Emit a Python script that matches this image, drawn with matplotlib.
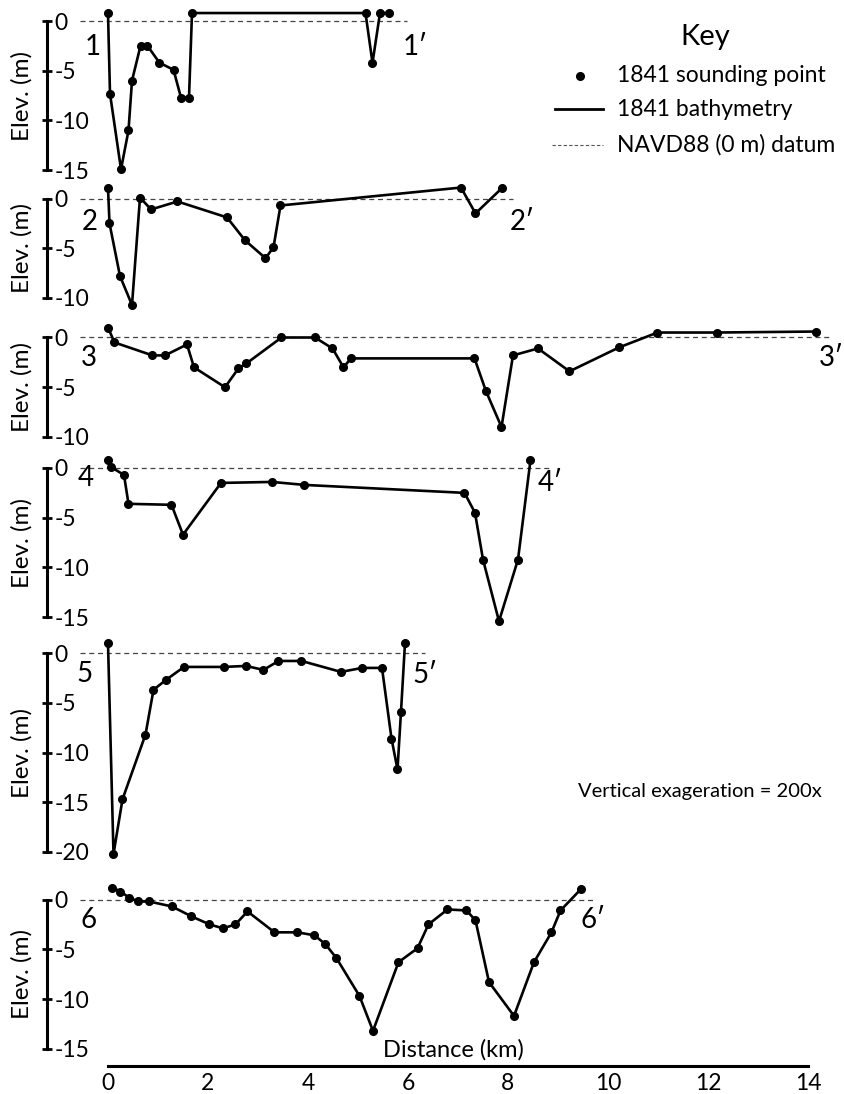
import matplotlib
matplotlib.use('Agg')
import matplotlib.pyplot as plt

plt.rcParams['font.family'] = ['Lato', 'DejaVu Sans']
plt.rcParams['axes.unicode_minus'] = False

# ---------------- data (distance km, elevation m) ----------------
p1_km = [0.0, 0.04, 0.26, 0.41, 0.48, 0.65, 0.79, 1.03, 1.31, 1.46, 1.62, 1.68, 5.15, 5.29, 5.44, 5.63]
p1_el = [0.8, -7.3, -14.9, -11.0, -6.0, -2.5, -2.5, -4.2, -4.9, -7.7, -7.7, 0.8, 0.8, -4.2, 0.8, 0.8]

p2_km = [0.0, 0.03, 0.24, 0.48, 0.64, 0.86, 1.39, 2.38, 2.74, 3.15, 3.31, 3.45, 7.06, 7.35, 7.89]
p2_el = [1.1, -2.5, -7.8, -10.7, 0.1, -1.1, -0.3, -1.9, -4.2, -6.0, -4.9, -0.7, 1.1, -1.5, 1.1]

p3_km = [0.0, 0.13, 0.89, 1.14, 1.58, 1.72, 2.34, 2.61, 2.77, 3.47, 4.14, 4.49, 4.71, 4.86,
         7.33, 7.56, 7.87, 8.10, 8.60, 9.23, 10.22, 10.99, 12.18, 14.17]
p3_el = [1.0, -0.5, -1.8, -1.8, -0.7, -3.0, -5.0, -3.1, -2.6, 0.0, 0.0, -1.1, -3.0, -2.1,
         -2.1, -5.4, -9.0, -1.8, -1.1, -3.4, -1.0, 0.5, 0.5, 0.6]

p4_km = [0.0, 0.06, 0.32, 0.41, 1.27, 1.50, 2.26, 3.28, 3.93, 7.13, 7.34, 7.50, 7.82, 8.20, 8.45]
p4_el = [0.8, 0.1, -0.7, -3.6, -3.7, -6.7, -1.5, -1.4, -1.7, -2.5, -4.5, -9.2, -15.4, -9.2, 0.8]

p5_km = [0.0, 0.11, 0.29, 0.75, 0.91, 1.16, 1.52, 2.32, 2.76, 3.11, 3.41, 3.87, 4.66, 5.08,
         5.48, 5.67, 5.79, 5.86, 5.94]
p5_el = [1.0, -20.2, -14.7, -8.2, -3.7, -2.7, -1.4, -1.4, -1.3, -1.7, -0.8, -0.8, -1.9, -1.5,
         -1.5, -8.6, -11.7, -5.9, 1.0]

p6_km = [0.09, 0.25, 0.42, 0.60, 0.82, 1.28, 1.67, 2.03, 2.30, 2.55, 2.79, 3.33, 3.79, 4.13,
         4.35, 4.57, 5.03, 5.30, 5.81, 6.19, 6.41, 6.79, 7.17, 7.35, 7.62, 8.12, 8.52, 8.87,
         9.05, 9.47]
p6_el = [1.2, 0.8, 0.2, -0.2, -0.2, -0.7, -1.7, -2.5, -2.9, -2.5, -1.2, -3.3, -3.3, -3.6,
         -4.5, -5.9, -9.7, -13.2, -6.3, -4.9, -2.5, -1.0, -1.1, -2.1, -8.3, -11.7, -6.3, -3.3,
         -1.1, 1.1]

section_names = ['1', '2', '3', '4', '5', '6']
axis_depths = [-15, -10, -10, -15, -20, -15]          # lowest elevation tick per panel
datum_end_km = [5.98, 8.1, 14.46, 8.84, 6.34, 9.75]    # right end of NAVD88 datum line
dist_ticks = [0, 2, 4, 6, 8, 10, 12, 14]

profiles = [(p1_km, p1_el), (p2_km, p2_el), (p3_km, p3_el),
            (p4_km, p4_el), (p5_km, p5_el), (p6_km, p6_el)]

# ---------------- layout (pixels) ----------------
W, H, DPI = 844, 1094, 100
X0_PX = 108.0
PX_PER_KM = 50.0
PX_PER_M = 9.95
SPINE_PX = 47.0
# (top row, bottom row, row of 0 m) for each panel
rows = [(0, 180, 21.0), (180, 316, 198.5), (316, 452, 337.5),
        (452, 632, 468.0), (632, 872, 653.0), (872, 1094, 899.5)]
# label positions (pixels)
left_lab = [(93, 47), (90, 222), (89, 358), (86, 478), (85, 674), (89, 920)]
right_lab = [(415, 47), (522, 222), (831, 358), (550, 483), (425, 675), (593, 920)]

def km(px):
    return (px - X0_PX) / PX_PER_KM

fig = plt.figure(figsize=(W / DPI, H / DPI), dpi=DPI)

for i, ((xs, ys), (top, bot, zr)) in enumerate(zip(profiles, rows)):
    ax = fig.add_axes([0, 1 - bot / H, 1, (bot - top) / H])
    ax.patch.set_visible(False)
    ax.set_xlim(km(0), km(W))
    ax.set_ylim(-(bot - zr) / PX_PER_M, (zr - top) / PX_PER_M)
    for s in ['left', 'top', 'bottom']:
        ax.spines[s].set_visible(False)
    ax.spines['right'].set_position(('data', km(SPINE_PX)))
    ax.spines['right'].set_bounds(axis_depths[i], 0)
    ax.spines['right'].set_linewidth(2.2)
    ax.yaxis.tick_right()
    ax.set_yticks(list(range(axis_depths[i], 1, 5)))
    ax.set_yticklabels([str(v) for v in range(axis_depths[i], 1, 5)])
    ax.tick_params(axis='y', direction='inout', length=7, width=2, pad=2, labelsize=16.5)
    ax.xaxis.set_visible(False)
    ax.text(km(22), axis_depths[i] / 2, 'Elev. (m)', rotation=90, ha='center', va='center',
            fontsize=17.5)
    # datum
    ax.hlines(0, km(80), datum_end_km[i], colors='#444444', linewidth=0.9,
              linestyles=(0, (4, 3)), zorder=1)
    ax.plot(xs, ys, color='black', linewidth=1.9, marker='o', markersize=5.5,
            clip_on=False, zorder=3)
    lx, ly = left_lab[i]
    rx, ry = right_lab[i]
    ax.text(km(lx), (zr - ly) / PX_PER_M, section_names[i], fontsize=20,
            ha='center', va='center')
    ax.text(km(rx), (zr - ry) / PX_PER_M, section_names[i] + '\u2032', fontsize=20,
            ha='center', va='center')

# distance axis
axd = fig.add_axes([0, 1 - 1066 / H, 1, 1 / H])
axd.patch.set_visible(False)
axd.set_xlim(km(0), km(W))
for s in ['left', 'top', 'right']:
    axd.spines[s].set_visible(False)
axd.spines['bottom'].set_bounds(0, 14)
axd.spines['bottom'].set_linewidth(2.2)
axd.set_xticks(dist_ticks)
axd.set_xticklabels([str(t) for t in dist_ticks])
axd.tick_params(axis='x', length=0, pad=5, labelsize=16.5)
axd.yaxis.set_visible(False)

# overlay for annotations
ov = fig.add_axes([0, 0, 1, 1])
ov.set_xlim(0, W)
ov.set_ylim(H, 0)
ov.axis('off')
ov.patch.set_visible(False)
ov.text(453, 1050, 'Distance (km)', ha='center', va='center', fontsize=17)
ov.text(705, 37, 'Key', ha='center', va='center', fontsize=21)
ov.plot([580], [76], 'o', color='black', markersize=5.5)
ov.plot([555, 603], [109, 109], color='black', linewidth=2)
ov.plot([552, 603], [145, 145], color='#555555', linewidth=0.8, linestyle=(0, (3, 2)))
ov.text(617, 76, '1841 sounding point', ha='left', va='center', fontsize=16.5)
ov.text(617, 109, '1841 bathymetry', ha='left', va='center', fontsize=16.5)
ov.text(617, 145, 'NAVD88 (0 m) datum', ha='left', va='center', fontsize=16.5)
ov.text(822, 792, 'Vertical exageration = 200x', ha='right', va='center', fontsize=14.5)

fig.savefig('out.png', dpi=DPI)
